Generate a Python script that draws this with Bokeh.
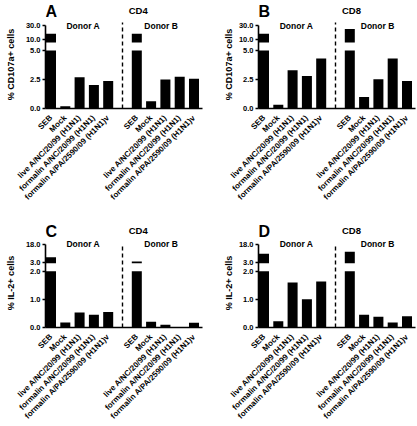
import numpy as np
from math import pi
from bokeh.plotting import figure
from bokeh.models import Range1d, FixedTicker, NumeralTickFormatter, Label, AllLabels
from bokeh.layouts import column, row
from bokeh.embed import file_html
from bokeh.resources import INLINE

# ---------------- data ----------------
categories = ["SEB", "Mock", "live A/NC/20/99 (H1N1)",
              "formalin A/NC/20/99 (H1N1)", "formalin A/PA/2590/09 (H1N1)v"]
donors = ["Donor A", "Donor B"]

cd4_cd107a_donorA = [17.8, 0.20, 2.70, 2.03, 2.38]
cd4_cd107a_donorB = [17.8, 0.62, 2.50, 2.73, 2.56]
cd8_cd107a_donorA = [17.8, 0.33, 3.30, 2.80, 4.30]
cd8_cd107a_donorB = [25.0, 1.00, 2.52, 4.30, 2.38]
cd4_il2_donorA = [7.2, 0.18, 0.53, 0.45, 0.55]
cd4_il2_donorB = [3.5, 0.20, 0.10, 0.02, 0.17]
cd8_il2_donorA = [10.3, 0.22, 1.60, 1.00, 1.63]
cd8_il2_donorB = [12.0, 0.45, 0.38, 0.18, 0.40]

cd107a_lower_ticks = [0.0, 2.5, 5.0]
cd107a_upper_ticks = [10.0, 30.0]
il2_lower_ticks = [0.0, 1.0, 2.0]
il2_upper_ticks = [3.0, 18.0]

FONT = "Liberation Sans"
SP = 14.3          # px per category slot
BAR_W = 0.7
HEADER_H = 20


def header(letter, title, W, title_x, title_y, letter_x, letter_y):
    h = figure(width=W, height=HEADER_H, x_range=Range1d(0, W),
               y_range=Range1d(0, HEADER_H), x_axis_location=None,
               y_axis_location=None, output_backend="svg", toolbar_location=None,
               min_border_left=0, min_border_right=0, min_border_top=0,
               min_border_bottom=0)
    h.title.visible = False
    h.outline_line_color = None
    h.xgrid.visible = False
    h.ygrid.visible = False
    h.add_layout(Label(x=letter_x, y=HEADER_H - letter_y, text=letter, text_font=FONT,
                       text_font_style="bold", text_font_size="16px",
                       text_align="left", text_baseline="top", text_color="black"))
    h.add_layout(Label(x=title_x, y=HEADER_H - title_y, text=title, text_font=FONT,
                       text_font_style="bold", text_font_size="9.5px",
                       text_align="center", text_baseline="middle", text_color="black"))
    return h


def panel(letter, title, ylabel, vals_a, vals_b, low_ticks, up_ticks,
          W, H, bottom, geo, xgeo):
    # vertical positions (px from panel top)
    up_top, up_bot, low_top, dash_top, label_y, title_y, letter_y = geo
    # horizontal positions (px from panel left)
    axis_px, first_px, letter_x, title_x, ylab_standoff, donor_dx = xgeo

    n = len(categories)
    Hm = H - HEADER_H
    FH = Hm - bottom                       # main frame height
    # convert to main-figure frame coordinates (px from frame top)
    up_top -= HEADER_H; up_bot -= HEADER_H; low_top -= HEADER_H
    dash_top -= HEADER_H; label_y -= HEADER_H
    base = FH

    low_max = low_ticks[-1]
    up_min, up_max = low_max, up_ticks[-1]

    xa = np.arange(n, dtype=float)
    xb = np.arange(n, dtype=float) + n + 1
    xs = np.concatenate([xa, xb])
    vals = np.array(list(vals_a) + list(vals_b), dtype=float)

    x_start = (axis_px - first_px) / SP
    x_end = x_start + (W - axis_px) / SP

    ppu_low = (base - low_top) / low_max
    ppu_up = (up_bot - up_top) / (up_max - up_min)
    up_start = up_min - (base - up_bot) / ppu_up
    up_end = up_start + FH / ppu_up

    def up_to_main(v):
        return (base - (up_bot - (v - up_min) * ppu_up)) / ppu_low

    p = figure(width=W, height=Hm,
               x_range=Range1d(x_start, x_end), y_range=Range1d(0, FH / ppu_low),
               output_backend="svg", toolbar_location=None,
               min_border_left=axis_px, min_border_right=0,
               min_border_top=0, min_border_bottom=bottom)
    p.title.visible = False
    p.extra_y_ranges = {"upper": Range1d(up_start, up_end)}
    p.outline_line_color = None
    p.xgrid.visible = False
    p.ygrid.visible = False
    p.background_fill_color = "white"
    p.border_fill_color = "white"

    # bars: lower segment
    p.vbar(x=xs, top=np.minimum(vals, low_max), bottom=0, width=BAR_W,
           fill_color="black", line_color=None)
    # bars: upper segment (axis break)
    mask = vals > up_min
    p.vbar(x=xs[mask], top=vals[mask], bottom=up_min, width=BAR_W,
           fill_color="black", line_color=None, y_range_name="upper")

    # donor separator
    p.segment(x0=[float(n)], x1=[float(n)], y0=[0], y1=[(base - dash_top) / ppu_low],
              line_color="black", line_width=1.4, line_dash="4 3")

    # x axis
    xax = p.xaxis[0]
    xax.bounds = (x_start, xs[-1] + 0.6)
    xax.ticker = FixedTicker(ticks=[float(v) for v in xs])
    xax.major_label_overrides = {float(v): categories[i % n] for i, v in enumerate(xs)}
    xax.major_label_policy = AllLabels()
    xax.major_tick_line_color = None
    xax.minor_tick_line_color = None
    xax.axis_line_width = 1.6
    xax.axis_line_color = "black"
    xax.major_label_orientation = pi / 4
    xax.major_label_standoff = 2
    xax.major_label_text_font = FONT
    xax.major_label_text_font_style = "bold"
    xax.major_label_text_font_size = "8px"
    xax.major_label_text_color = "black"

    # y axis: lower-segment ticks plus upper-segment ticks placed at the
    # positions of the upper scale
    up_pos = [up_to_main(v) for v in up_ticks]
    yax = p.yaxis[0]
    yax.bounds = (0, up_to_main(up_max))
    yax.ticker = FixedTicker(ticks=[float(t) for t in low_ticks] + up_pos)
    yax.formatter = NumeralTickFormatter(format="0.0")
    yax.major_label_overrides = {pos: f"{v:.1f}" for pos, v in zip(up_pos, up_ticks)}
    yax.major_label_policy = AllLabels()
    yax.major_tick_in = 0
    yax.major_tick_out = 3
    yax.major_tick_line_width = 1.5
    yax.minor_tick_line_color = None
    yax.axis_line_width = 1.6
    yax.axis_line_color = "black"
    yax.major_label_standoff = 2
    yax.major_label_text_font = FONT
    yax.major_label_text_font_style = "bold"
    yax.major_label_text_font_size = "7.5px"
    yax.major_label_text_color = "black"
    yax.axis_label = ylabel
    yax.axis_label_standoff = ylab_standoff
    yax.axis_label_text_font = FONT
    yax.axis_label_text_font_style = "bold"
    yax.axis_label_text_font_size = "9px"
    yax.axis_label_text_color = "black"

    # donor labels
    for dx, dn in zip([xa.mean() + donor_dx[0], xb.mean() + donor_dx[1]], donors):
        p.add_layout(Label(x=dx, y=FH - label_y, y_units="screen", text=dn,
                           text_font=FONT, text_font_style="bold",
                           text_font_size="8.5px", text_align="center",
                           text_baseline="middle", text_color="black"))

    h = header(letter, title, W, title_x, title_y, letter_x, letter_y)
    return column(h, p)


#            up_top up_bot low_top dash_top label_y title_y letter_y
geo_top = (25.0, 42.0, 50.0, 22.0, 25.0, 10.0, 2.0)
geo_bot = (26.5, 45.0, 53.0, 25.0, 26.0, 12.0, 4.0)
#         axis_px first_px letter_x title_x ylab_standoff donor_dx
xgeo_left = (45, 50.5, 0.0, 118.0, 7, (0.25, -0.3))
xgeo_right = (48, 53.5, 0.0, 121.0, 2, (0.27, -0.06))

pA = panel("A", "CD4", "% CD107a+ cells", cd4_cd107a_donorA, cd4_cd107a_donorB,
           cd107a_lower_ticks, cd107a_upper_ticks, 210, 218, 110, geo_top, xgeo_left)
pB = panel("B", "CD8", "% CD107a+ cells", cd8_cd107a_donorA, cd8_cd107a_donorB,
           cd107a_lower_ticks, cd107a_upper_ticks, 207, 218, 110, geo_top, xgeo_right)
pC = panel("C", "CD4", "% IL-2+ cells", cd4_il2_donorA, cd4_il2_donorB,
           il2_lower_ticks, il2_upper_ticks, 210, 208, 98, geo_bot, xgeo_left)
pD = panel("D", "CD8", "% IL-2+ cells", cd8_il2_donorA, cd8_il2_donorB,
           il2_lower_ticks, il2_upper_ticks, 207, 208, 98, geo_bot, xgeo_right)

layout = column(row(pA, pB), row(pC, pD))

open("out.html", "w").write(file_html(layout, INLINE))
